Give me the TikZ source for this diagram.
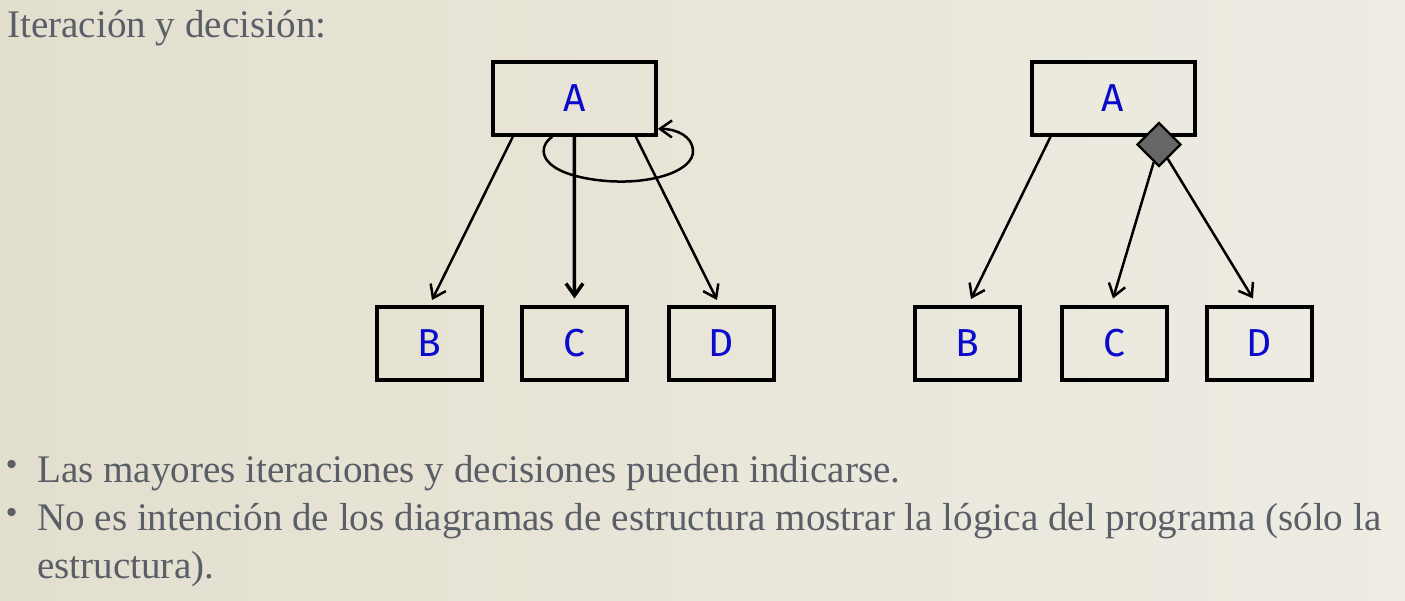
\documentclass[tikz,border=0pt]{standalone}
\usepackage{fontspec}
\setmainfont{Liberation Serif}
\newfontfamily\boxfont{Fira Sans}
\usetikzlibrary{arrows.meta,shapes.geometric}
\definecolor{txtgrey}{HTML}{5A5E66}
\definecolor{lblue}{HTML}{0A0ACC}
\definecolor{bgleft}{HTML}{E3DFCF}
\definecolor{bgright}{HTML}{EEECE3}
\definecolor{diagrey}{HTML}{666666}
\tikzset{
  bigbox/.style={draw=black, line width=4pt, minimum width=163pt, minimum height=73pt, inner sep=0pt, font=\boxfont\fontsize{39}{39}\selectfont, text=lblue},
  smallbox/.style={draw=black, line width=4pt, minimum width=105pt, minimum height=73pt, inner sep=0pt, font=\boxfont\fontsize{39}{39}\selectfont, text=lblue},
  conn/.style={line width=2.5pt, -{Straight Barb[length=12pt,width=17pt,line width=2.5pt]}},
  thickconn/.style={line width=3.5pt, -{Straight Barb[length=12pt,width=17pt,line width=3.5pt]}},
  maintext/.style={anchor=base west, inner sep=0pt, text=txtgrey, font=\fontsize{39.1}{39.1}\selectfont},
  bulletmark/.style={circle, fill=txtgrey, minimum size=8.5pt, inner sep=0pt},
  decision/.style={diamond, draw=black, line width=2.4pt, fill=diagrey, minimum size=44pt, inner sep=0pt}
}
\begin{document}
\begin{tikzpicture}[x=1pt,y=-1pt]
\useasboundingbox (0,0) rectangle (1405,600);
\shade[left color=bgleft, right color=bgright] (0,0) rectangle (1405,600);

% title
\node[maintext] (title) at (7,37) {Iteración y decisión:};

% left tree
\node[bigbox] (A1) at (574.3,98.3) {A};
\node[smallbox] (B1) at (429,343) {B};
\node[smallbox] (C1) at (574.5,343) {C};
\node[smallbox] (D1) at (721,343) {D};
\draw[conn] ([xshift=22pt]A1.south west) -- ([xshift=3pt,yshift=4.5pt]B1.north);
\draw[thickconn] (A1.south) -- ([yshift=6pt]C1.north);
\draw[conn] ([xshift=-22pt]A1.south east) -- ([xshift=-4pt,yshift=4.5pt]D1.north);
\draw[conn] ([xshift=-22pt]A1.south) .. controls (538,146) and (536,170) .. (590,179)
  .. controls (645,188) and (695,172) .. (693,150)
  .. controls (692,137) and (678,129) .. ([yshift=8pt]A1.south east);

% right tree
\node[bigbox] (A2) at (1113,98.3) {A};
\node[smallbox] (B2) at (967.5,343) {B};
\node[smallbox] (C2) at (1114,343) {C};
\node[smallbox] (D2) at (1259.5,343) {D};
\node[decision] (dec) at (1159,144.5) {};
\draw[conn] ([xshift=21pt]A2.south west) -- ([xshift=3.5pt,yshift=5.5pt]B2.north);
\draw[conn] (dec) -- ([xshift=-1pt,yshift=6pt]C2.north);
\draw[conn] (dec) -- ([xshift=-6.5pt,yshift=6pt]D2.north);

% bullets
\node[bulletmark] (b1) at (11.5,464) {};
\node[maintext] (t1) at (37,482) {Las mayores iteraciones y decisiones pueden indicarse.};
\node[bulletmark] (b2) at (11.5,512) {};
\node[maintext] (t2) at (37,530) {No es intención de los diagramas de estructura mostrar la lógica del programa (sólo la};
\node[maintext] (t3) at (37,578) {estructura).};
\end{tikzpicture}
\end{document}
